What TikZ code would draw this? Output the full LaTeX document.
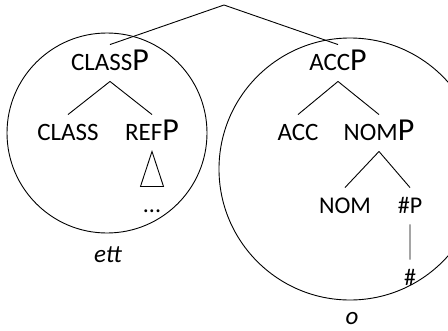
\documentclass[tikz,border=0pt]{standalone}
\usepackage{fontspec}
\setmainfont{Carlito}
\newcommand{\smcap}[1]{{\fontsize{25}{30}\selectfont #1}}
\newcommand{\catP}[1]{\smcap{#1}{\fontsize{32}{36}\selectfont P}}

\begin{document}
\begin{tikzpicture}[x=1pt,y=-1pt,line width=0.9pt,
	lbl/.style={anchor=base,inner sep=2pt,text height=23pt,text depth=9pt},
	low/.style={lbl,font=\fontsize{24}{28}\selectfont},
	gloss/.style={anchor=base,inner sep=0pt,font=\fontsize{25}{30}\selectfont\itshape},
	bubble/.style={circle,draw,inner sep=0pt,outer sep=0pt}]
	\useasboundingbox (0,0) rectangle (448,330);
	\clip (0,0) rectangle (448,330);
					\node (ettP)  at (107,133) [bubble,minimum size=200pt] {};
					\node (oP)    at (350,169) [bubble,minimum size=262pt] {};
					\coordinate (top) at (224,5);
					\node (classp) at (110, 70) [lbl] {\catP{CLASS}};
					\node (class)  at ( 68,140) [lbl] {\smcap{CLASS}};
					\node (refp)   at (152,140) [lbl] {\catP{REF}};
					\node (dots)   at (152,212) [low,anchor=base] {...};
					\node (accp)   at (338, 70) [lbl] {\catP{ACC}};
					\node (acc)    at (298,140) [lbl] {\smcap{ACC}};
					\node (nomp)   at (379,140) [lbl] {\catP{NOM}};
					\node (nom)    at (345,213) [low] {NOM};
					\node (hashp)  at (410,213) [low] {\#P};
					\node (hash)   at (410,285) [low] {\#};
					\node (ett)    at (108,262) [gloss] {ett};
					\node (o)      at (352,324) [gloss] {o};
					\draw [-] (top) -- (classp.north)
							  (top) -- (accp.north)
							  (classp.south) -- (class.north)
							  (classp.south) -- (refp.north)
							  (accp.south) -- (acc.north)
							  (accp.south) -- (nomp.north)
							  (nomp.south) -- (nom.north)
							  (nomp.south) -- (hashp.north)
							  (hashp.south) -- (hash.north);
					\draw (refp.south) -- ++(-11.5,35) -- ++(23,0) -- cycle;
\end{tikzpicture}
\end{document}
